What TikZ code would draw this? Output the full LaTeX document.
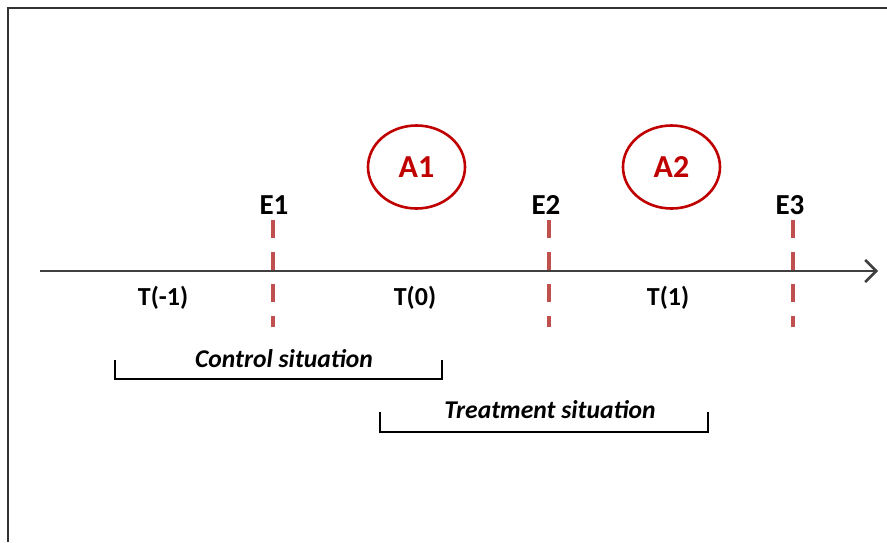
\documentclass[tikz,border=0pt]{standalone}
\usepackage{fontspec}
\setmainfont{Carlito}
\usetikzlibrary{arrows.meta,shapes.geometric}
\definecolor{dashred}{HTML}{C0504D}
\definecolor{circred}{HTML}{C00000}
\definecolor{axisgray}{HTML}{404040}
\tikzset{
  x=1pt,y=-1pt,
  eventlabel/.style={font=\fontsize{29}{32}\selectfont\bfseries, inner sep=0pt},
  tlabel/.style={font=\fontsize{26}{30}\selectfont\bfseries, inner sep=0pt},
  actcirc/.style={draw=circred, line width=2.6pt, ellipse, minimum width=97pt, minimum height=83pt, text=circred, font=\fontsize{32}{36}\selectfont\bfseries, inner sep=0pt},
  eventline/.style={draw=dashred, line width=3.5pt, dash pattern=on 18pt off 14pt},
  sitlabel/.style={font=\fontsize{25.6}{29}\selectfont\bfseries\itshape, inner sep=0pt},
  bracketline/.style={draw=black, line width=1.3pt}
}
\begin{document}
\begin{tikzpicture}
\useasboundingbox (0,0) rectangle (887,542);
\fill[white] (0,0) rectangle (887,542);
% frame
\draw[line width=1.2pt, black!80] (8,542) -- (8,8) -- (887,8);
% axis
\coordinate (axL) at (40,271);
\coordinate (axR) at (878,271);
\draw[axisgray, line width=2.5pt, -{Straight Barb[length=11pt,width=22pt,line width=2.5pt]}] (axL) -- (axR);
% event lines
\coordinate (e1t) at (273,220); \coordinate (e1b) at (273,327);
\coordinate (e2t) at (549,220); \coordinate (e2b) at (549,327);
\coordinate (e3t) at (793,220); \coordinate (e3b) at (793,327);
\draw[eventline] (e1t) -- (e1b);
\draw[eventline] (e2t) -- (e2b);
\draw[eventline] (e3t) -- (e3b);
% labels
\node[eventlabel] (E1) at (274,205) {E1};
\node[eventlabel] (E2) at (546,205) {E2};
\node[eventlabel] (E3) at (790,205) {E3};
\node[tlabel] (T-1) at (163,298) {T(-1)};
\node[tlabel] (T0) at (415,298) {T(0)};
\node[tlabel] (T1) at (668,298) {T(1)};
% activity circles
\node[actcirc] (A1) at (416.5,167) {A1};
\node[actcirc] (A2) at (671.5,167) {A2};
% brackets
\node[sitlabel] (ctrl) at (284,359) {Control situation};
\node[sitlabel] (trt) at (550,410) {Treatment situation};
\coordinate (c1) at (115,360); \coordinate (c2) at (115,379);
\coordinate (c3) at (442,379); \coordinate (c4) at (442,360);
\draw[bracketline] (c1) -- (c2) -- (c3) -- (c4);
\coordinate (t1) at (380,412); \coordinate (t2) at (380,432);
\coordinate (t3) at (708,432); \coordinate (t4) at (708,412);
\draw[bracketline] (t1) -- (t2) -- (t3) -- (t4);
\end{tikzpicture}
\end{document}
